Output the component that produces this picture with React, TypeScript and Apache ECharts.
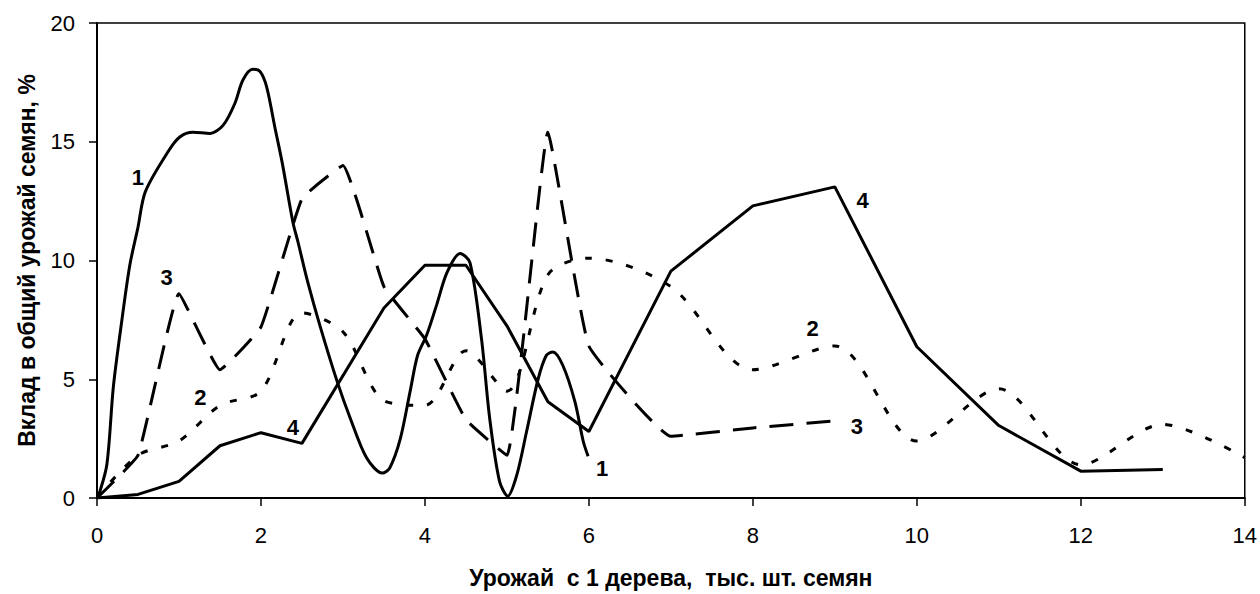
import React, { useEffect, useRef } from "react";
import * as echarts from "echarts";

// Curve 1 (solid, smooth)
const x1 = [0, 0.02, 0.12, 0.2, 0.3, 0.4, 0.5, 0.59, 0.87, 1.01, 1.17, 1.38, 1.54, 1.68, 1.78, 1.9, 1.99, 2.07, 2.17, 2.26, 2.39, 2.45, 2.57, 2.72, 2.93, 3.09, 3.29, 3.48, 3.57, 3.7, 3.82, 3.91, 4.02, 4.14, 4.27, 4.43, 4.55, 4.69, 4.79, 4.91, 5.01, 5.12, 5.24, 5.38, 5.48, 5.56, 5.68, 5.83, 5.93, 5.99];
const y1 = [0, 0.1, 1.4, 4.7, 7.4, 9.8, 11.4, 12.9, 14.6, 15.2, 15.4, 15.35, 15.7, 16.6, 17.6, 18.05, 17.95, 17.3, 15.6, 14.1, 11.6, 10.8, 9.1, 7.25, 4.9, 3.35, 1.68, 1.05, 1.26, 2.5, 4.5, 6.0, 6.85, 8.1, 9.5, 10.3, 9.9, 6.7, 3.35, 0.7, 0.08, 0.96, 2.8, 5.0, 6.0, 6.15, 5.6, 4.05, 2.4, 1.76];

// Curve 2 (dotted)
const x2 = [0, 0.5, 1, 1.5, 2, 2.5, 3, 3.5, 4, 4.5, 5, 5.5, 6, 7, 8, 9, 10, 11, 12, 13, 14];
const y2 = [0, 1.8, 2.4, 3.9, 4.5, 7.8, 7.0, 4.1, 3.9, 6.2, 4.5, 9.4, 10.1, 8.9, 5.4, 6.4, 2.4, 4.6, 1.4, 3.1, 1.7];

// Curve 3 (long dashes)
const x3 = [0, 0.5, 1, 1.5, 2, 2.5, 3, 3.5, 4, 4.5, 5, 5.5, 6, 7, 8, 9];
const y3 = [0, 1.8, 8.6, 5.4, 7.2, 12.6, 14.0, 8.9, 6.7, 3.3, 1.8, 15.4, 6.4, 2.6, 2.95, 3.25];

// Curve 4 (solid, straight)
const x4 = [0, 0.5, 1, 1.5, 2, 2.5, 3.5, 4, 4.5, 5, 5.5, 6, 7, 8, 9, 10, 11, 12, 13];
const y4 = [0, 0.15, 0.7, 2.2, 2.75, 2.3, 8.0, 9.8, 9.8, 7.25, 4.05, 2.8, 9.55, 12.3, 13.1, 6.37, 3.05, 1.13, 1.2];

// Curve number labels
const labelNames = ["1", "3", "2", "4", "1", "4", "2", "3"];
const labelX = [0.5, 0.85, 1.26, 2.39, 6.16, 9.34, 8.73, 9.27];
const labelY = [13.5, 9.3, 4.23, 2.96, 1.26, 12.54, 7.13, 3.02];

const xTitle = "Урожай  с 1 дерева,  тыс. шт. семян";
const yTitle = "Вклад в общий урожай семян, %";

const FONT = "'Liberation Sans', Arial, sans-serif";

function pairs(xs: number[], ys: number[]) {
  return xs.map((x, i) => [x, ys[i]]);
}

export default function App() {
  const ref = useRef<HTMLDivElement>(null);
  useEffect(() => {
    if (!ref.current) return;
    const chart = echarts.init(ref.current, null, { renderer: "svg" });
    const lineBase = { type: "line", symbol: "none", silent: true };
    chart.setOption({
      animation: false,
      backgroundColor: "#fff",
      textStyle: { fontFamily: FONT },
      grid: {
        left: 97,
        right: 15,
        top: 23,
        bottom: 94,
        show: true,
        borderColor: "#000",
        borderWidth: 1.5,
      },
      xAxis: {
        type: "value",
        min: 0,
        max: 14,
        interval: 2,
        name: xTitle,
        nameLocation: "middle",
        nameGap: 68,
        nameMoveOverlap: false,
        nameTextStyle: { fontFamily: FONT, fontSize: 23, fontWeight: "bold", color: "#000" },
        axisLine: { show: true, lineStyle: { color: "#000", width: 2 } },
        axisTick: { show: true, length: 8, lineStyle: { color: "#000", width: 1.5 } },
        axisLabel: { fontFamily: FONT, fontSize: 22, color: "#000", margin: 26 },
        splitLine: { show: false },
      },
      yAxis: {
        type: "value",
        min: 0,
        max: 20,
        interval: 5,
        name: yTitle,
        nameLocation: "middle",
        nameGap: 59,
        nameMoveOverlap: false,
        nameTextStyle: { fontFamily: FONT, fontSize: 23, fontWeight: "bold", color: "#000" },
        axisLine: { show: true, lineStyle: { color: "#000", width: 2 } },
        axisTick: { show: true, length: 8, lineStyle: { color: "#000", width: 1.5 } },
        axisLabel: { fontFamily: FONT, fontSize: 22, color: "#000", margin: 22 },
        splitLine: { show: false },
      },
      series: [
        {
          ...lineBase,
          name: "1",
          data: pairs(x1, y1),
          smooth: 0.3,
          lineStyle: { color: "#000", width: 3 },
        },
        {
          ...lineBase,
          name: "2",
          data: pairs(x2, y2),
          smooth: 0.3,
          lineStyle: { color: "#000", width: 3, type: [7, 14] },
        },
        {
          ...lineBase,
          name: "3",
          data: pairs(x3, y3),
          smooth: 0.1,
          lineStyle: { color: "#000", width: 3, type: [24, 13] },
        },
        {
          ...lineBase,
          name: "4",
          data: pairs(x4, y4),
          lineStyle: { color: "#000", width: 3 },
        },
        {
          type: "scatter",
          name: "labels",
          silent: true,
          symbolSize: 1,
          itemStyle: { color: "rgba(0,0,0,0)" },
          data: labelNames.map((n, i) => ({ name: n, value: [labelX[i], labelY[i]] })),
          label: {
            show: true,
            position: "inside",
            formatter: (p: any) => p.name,
            fontFamily: FONT,
            fontSize: 22,
            fontWeight: "bold",
            color: "#000",
            textBorderWidth: 0,
            textBorderColor: "transparent",
            opacity: 1,
          },
        },
      ],
    });
    return () => chart.dispose();
  }, []);
  return (
    <div
      ref={ref}
      style={{ position: "fixed", left: 0, top: 0, width: 1260, height: 594, background: "#fff" }}
    />
  );
}
